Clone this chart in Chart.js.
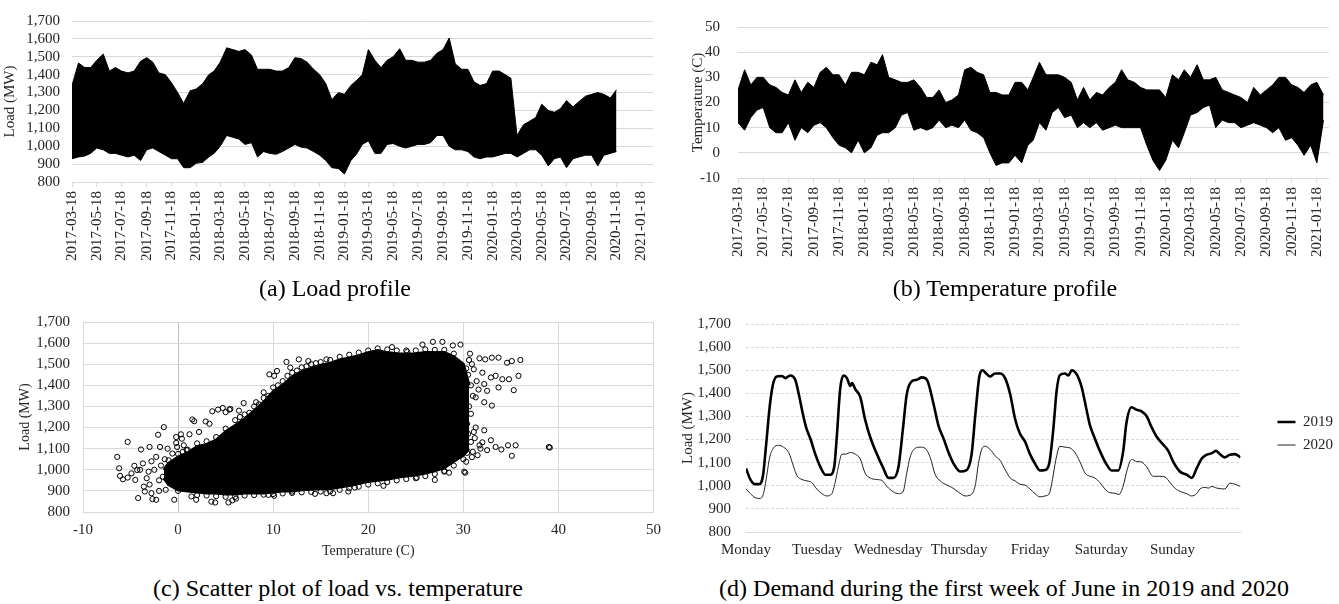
<!DOCTYPE html>
<html>
<head>
<meta charset="utf-8">
<title>Load and temperature</title>
<script src="https://cdn.jsdelivr.net/npm/chart.js@4.4.1/dist/chart.umd.min.js"></script>
<style>
  html, body { margin: 0; padding: 0; background: #fff; }
  body { position: relative; width: 1339px; height: 604px; overflow: hidden; font-family: "Liberation Serif", "Times New Roman", serif; }
  canvas { position: absolute; }
  .cap { position: absolute; font-size: 24px; line-height: 24px; color: #000; white-space: nowrap; transform: translateX(-50%); }
</style>
</head>
<body>
<canvas id="load" width="665" height="265" style="left:0;top:0"></canvas>
<canvas id="temp" width="669" height="265" style="left:670px;top:0"></canvas>
<canvas id="scatter" width="670" height="262" style="left:0;top:300px"></canvas>
<canvas id="week" width="669" height="262" style="left:670px;top:300px"></canvas>

<div class="cap" style="left:335px;top:276px">(a) Load profile</div>
<div class="cap" style="left:1005px;top:276px">(b) Temperature profile</div>
<div class="cap" style="left:338px;top:576px">(c) Scatter plot of load vs. temperature</div>
<div class="cap" style="left:1004px;top:576px">(d) Demand during the first week of June in 2019 and 2020</div>

<script>
// tick labels of the two date axes (every two months)
const dateTicks = ['2017-03-18','2017-05-18','2017-07-18','2017-09-18','2017-11-18','2018-01-18','2018-03-18','2018-05-18',
  '2018-07-18','2018-09-18','2018-11-18','2019-01-18','2019-03-18','2019-05-18','2019-07-18','2019-09-18','2019-11-18',
  '2020-01-18','2020-03-18','2020-05-18','2020-07-18','2020-09-18','2020-11-18','2021-01-18'];

const sampleDates = [
  '2017-03-18','2017-04-03','2017-04-18','2017-05-03','2017-05-18','2017-06-03','2017-06-18','2017-07-03','2017-07-18','2017-08-03',
  '2017-08-18','2017-09-03','2017-09-18','2017-10-03','2017-10-18','2017-11-03','2017-11-18','2017-12-03','2017-12-18',
  '2018-01-03','2018-01-18','2018-02-03','2018-02-18','2018-03-03','2018-03-18','2018-04-03','2018-04-18','2018-05-03','2018-05-18',
  '2018-06-03','2018-06-18','2018-07-03','2018-07-18','2018-08-03','2018-08-18','2018-09-03','2018-09-18','2018-10-03','2018-10-18',
  '2018-11-03','2018-11-18','2018-12-03','2018-12-18',
  '2019-01-03','2019-01-18','2019-02-03','2019-02-18','2019-03-03','2019-03-18','2019-04-03','2019-04-18','2019-05-03','2019-05-18',
  '2019-06-03','2019-06-18','2019-07-03','2019-07-18','2019-08-03','2019-08-18','2019-09-03','2019-09-18','2019-10-03','2019-10-18',
  '2019-11-03','2019-11-18','2019-12-03','2019-12-18',
  '2020-01-03','2020-01-18','2020-02-03','2020-02-18','2020-03-03','2020-03-18','2020-04-03','2020-04-18','2020-05-03','2020-05-18',
  '2020-06-03','2020-06-18','2020-07-03','2020-07-18','2020-08-03','2020-08-18','2020-09-03','2020-09-18','2020-10-03','2020-10-18',
  '2020-11-03','2020-11-18','2020-12-03','2020-12-18',
  '2021-01-03','2021-01-18','2021-02-03'];

// (a) load profile, upper / lower edge of the hourly band (MW)
const loadHigh = [1340,1465,1440,1440,1480,1515,1420,1440,1420,1410,1420,1475,1495,1470,1410,1400,1355,1300,1240,
  1310,1320,1350,1400,1420,1470,1550,1540,1530,1540,1510,1430,1430,1430,1420,1420,1440,1495,1490,1470,1430,1400,1350,1260,
  1300,1290,1340,1370,1400,1540,1480,1440,1480,1500,1545,1480,1480,1470,1470,1480,1520,1540,1605,1460,1430,1430,1360,1340,
  1350,1420,1420,1400,1380,1060,1120,1140,1160,1235,1200,1190,1210,1255,1220,1250,1280,1290,1300,1290,1270,1315];
const loadLow = [930,940,945,960,990,980,960,960,950,940,950,920,980,990,970,950,930,930,880,
  880,905,910,940,960,1000,1060,1050,1040,1010,1020,940,970,960,955,970,990,1010,995,990,970,950,920,880,
  875,845,920,960,1010,1030,960,960,1010,1015,1000,990,1000,1010,1010,1020,1060,1060,1000,980,980,970,940,930,
  940,940,950,960,960,940,960,980,980,950,890,930,940,880,930,940,950,950,890,950,960,970];

// (b) temperature profile, upper / lower edge (C)
const tempHigh = [25,33,27,30,30,27,26,24,23,29,24,28,26,32,34,31,31,27,32,
  32,31,36,35,39,30,29,28,28,29,26,22,22,25,20,21,23,33,34,32,31,24,24,23,
  23,28,28,25,30,36,31,31,31,30,28,21,26,21,24,23,26,28,33,29,28,26,25,25,
  25,22,31,29,33,30,35,29,29,30,25,24,23,22,20,26,23,25,27,30,30,27,26,24,
  27,28,23];
const tempLow = [12,9,14,17,18,10,8,8,12,5,10,8,11,12,10,6,3,2,0,
  5,0,2,7,8,8,10,15,16,9,10,9,10,13,10,11,10,13,9,8,6,0,-5,-4,
  -4,-1,-4,3,5,12,9,16,18,14,15,10,12,10,12,9,10,11,10,10,10,10,3,-3,
  -7,-3,5,2,8,15,16,18,19,10,13,12,12,10,11,12,11,10,8,10,5,6,3,-1,
  3,-4,13];

// (c) solid core of the scatter cloud: temperature with top / bottom load
const cloudTemp = [-1.5,-1,0,1,2,3,4,5,6,7,8,9,10,11,12,13,14,15,16,17,18,19,20,21,22,23,24,25,26,27,28,29,30,30.6];
const cloudTop = [1000,1030,1060,1080,1110,1120,1140,1180,1210,1240,1280,1320,1370,1400,1440,1465,1480,1495,1505,1520,
  1530,1540,1555,1565,1555,1550,1548,1550,1555,1555,1555,1535,1500,1400];
const cloudBottom = [960,930,905,900,895,890,890,885,885,890,890,890,895,900,900,905,908,910,910,918,
  925,935,945,950,955,965,970,975,985,995,1010,1040,1070,1100];

// (c) separate hourly observations around and on the edge of the cloud
const scTemp = [-6.4,-5.3,-6.2,-6.1,-5.8,-5.3,-4.9,-4.6,-4.3,-4.5,-4.2,-3.9,-3.7,-3.6,-3.5,-3.1,-3.0,-2.8,-2.7,-2.3,
  -2.3,-2.1,-1.9,-1.5,-1.6,-1.3,-1.1,-0.6,-0.4,-0.2,-0.1,-0.2,0.3,0.4,0.6,0.9,1.2,1.5,1.7,1.4,
  1.9,2.2,2.9,3.3,3.5,3.9,3.6,4.2,4.7,5.0,5.4,5.5,5.3,5.7,6.1,6.4,6.9,8.2,9.0,9.6,
  10.1,10.4,11.4,11.8,12.7,13.7,15.6,9.5,10.1,12.0,14.4,15.6,21.6,17.9,18.6,16.3,25.7,26.8,27.8,28.9,
  29.7,24.1,22.5,27.0,28.0,28.5,30.2,25.1,30.7,31.7,32.3,33.0,33.7,34.6,35.1,36.0,31.1,32.0,32.9,33.4,
  34.1,34.8,35.8,32.2,33.7,35.3,32.5,31.3,33.0,32.2,30.8,30.4,31.1,32.2,30.8,31.7,32.5,32.9,33.4,34.0,
  34.7,35.1,35.5,31.0,31.5,30.3,30.1,39.0,39.1,
  -2.5,-2.0,-1.8,-1.0,-0.8,-2.8,-3.3,-4.0,-1.4,-0.5,0.0,-2.0,-3.0,
  30.5,30.8,31.0,30.6,31.4,30.9,31.6,30.5,31.2,31.8,30.9,32.0,31.3,
  6,6.5,7,7.5,8,8.5,9,9.5,10,10.5,11,11.5,12,12.5,13,13.5,14,14.5,15,16,17,18,19,20,21,22,23,24,25,26,27,28,29,
  2,3,4,5,6,7,8,9,10,11,12,13,14,15,16,17,18,19,20,21,22,23,24,25,26,27,28,29,30,
  -1,0,0.5,1,2,3,4,5,30.3,30.6,30.2,30.4];
const scLoad = [1061,1132,1007,971,955,963,983,1019,999,952,866,1096,1030,920,897,991,1108,889,861,858,
  1061,1166,1108,1202,967,905,1100,1077,858,1155,1108,1127,1168,1147,1116,1093,1168,1238,1230,874,
  858,1179,1229,1218,849,845,1277,1285,1293,1273,1285,1288,845,855,863,1280,1316,1320,1367,1452,
  1445,1468,1511,1484,1523,1515,1523,881,877,897,886,889,924,897,916,889,1593,1606,1606,1589,
  1593,1559,1581,952,991,986,986,963,1550,1528,1523,1531,1531,1507,1515,1520,1476,1460,1437,1445,
  1429,1429,1445,1406,1390,1377,1374,1343,1304,1320,1265,1218,1179,1187,1132,1116,1093,1140,1108,1096,
  1116,1066,1116,1085,1069,1038,991,1108,1105,
  1000,950,1020,990,940,1040,960,1000,1050,1030,900,900,930,
  1450,1400,1350,1300,1420,1500,1380,1170,1150,1100,1060,1130,1200,
  1235,1250,1262,1270,1300,1310,1340,1350,1390,1400,1420,1445,1460,1470,1485,1490,1500,1505,1510,1520,1535,1545,1555,1565,1575,1570,1565,1565,1565,1570,1568,1568,1550,
  880,878,875,872,872,878,880,882,885,888,890,893,895,897,898,905,912,920,930,936,942,950,956,960,970,980,995,1020,1050,
  1045,1075,1085,1095,1125,1135,1155,1195,1480,1520,1110,1080];

// (d) first week of June, hour of week and load (MW)
const dayNames = ['Monday','Tuesday','Wednesday','Thursday','Friday','Saturday','Sunday'];
const hours2019 = [0,1.5,3.1,4.3,5.7,6.8,8.0,9.1,10.4,12.1,13.3,14.9,16.6,17.8,18.9,20.3,21.9,23.4,25.1,26.8,
  28.4,29.8,30.7,31.8,32.9,34.1,35.2,35.8,36.9,38.6,40.2,41.9,44.2,46.4,48.1,49.8,51.5,53.0,54.3,56.0,
  57.7,59.4,61.1,63.3,65.0,66.7,68.4,70.1,72.3,74.5,76.2,77.4,78.8,79.9,81.1,82.4,84.1,85.8,87.5,89.2,
  90.9,92.5,94.2,95.9,97.6,99.3,101.0,102.4,103.8,104.9,106.0,107.7,108.9,110.0,111.7,113.4,115.0,116.2,117.8,119.5,
  121.6,123.5,125.7,127.4,128.5,130.2,131.9,133.6,135.3,137.0,138.7,140.9,142.6,144.3,146.5,148.8,150.5,152.2,153.8,155.5,
  157.2,158.7,160.3,161.7,163.4,165.1,167.0];
const load2019 = [1075,1027,1007,1007,1041,1178,1342,1438,1473,1475,1466,1477,1460,1398,1329,1253,1198,1137,1082,1048,
  1048,1082,1219,1418,1477,1466,1432,1445,1418,1384,1288,1212,1137,1075,1034,1034,1082,1247,1397,1452,
  1459,1469,1459,1356,1260,1205,1144,1096,1062,1068,1137,1301,1473,1500,1486,1473,1486,1486,1466,1397,
  1288,1226,1192,1137,1096,1066,1068,1096,1247,1411,1479,1486,1477,1500,1482,1425,1329,1260,1205,1151,
  1096,1066,1066,1151,1274,1340,1329,1322,1301,1253,1212,1178,1151,1103,1062,1048,1034,1075,1116,1134,
  1140,1151,1134,1123,1134,1137,1123];
const hours2020 = [0,1.5,3.1,4.8,5.9,6.8,8.0,9.3,11.0,12.7,14.4,16.1,17.2,18.9,20.6,22.2,23.9,25.6,27.3,29.0,
  30.1,31.2,32.4,33.7,35.2,36.9,38.6,40.2,41.9,44.2,45.9,47.6,49.8,51.5,53.0,54.3,55.4,57.1,58.8,60.5,
  62.2,63.9,65.6,67.2,69.5,71.7,74.0,75.7,77.4,78.5,79.6,80.7,82.4,84.1,85.8,87.5,89.2,90.9,92.5,94.2,
  95.9,97.6,99.3,101.0,102.4,103.5,104.6,106.0,107.7,109.4,111.1,112.8,114.5,116.2,117.8,119.5,121.2,122.9,124.6,125.9,
  127.4,128.7,130.2,131.9,133.6,135.3,137.5,139.8,141.5,143.2,144.9,147.1,148.8,150.5,152.2,153.3,155.0,156.2,157.3,159.0,
  161.7,163.4,165.1,167.0];
const load2020 = [986,966,948,945,966,1027,1123,1164,1175,1167,1144,1082,1044,1027,1021,1014,986,966,956,966,
  1014,1082,1137,1137,1144,1137,1116,1055,1034,1027,1023,997,973,966,973,1055,1123,1162,1167,1162,
  1123,1048,1021,1007,993,973,956,959,1000,1096,1158,1171,1158,1130,1110,1070,1034,1021,1007,1003,
  986,966,952,956,966,1027,1110,1171,1167,1164,1144,1103,1055,1041,1034,1014,986,970,968,962,
  1000,1068,1114,1105,1103,1082,1041,1041,1038,1014,989,973,966,956,966,986,993,990,997,990,
  986,1011,1007,997];

// ---- helpers ----
const axisStart = '2017-03-18';
const axisEnd = '2021-02-16';
const DAY = 86400000;
const dayOf = s => (Date.parse(s) - Date.parse(axisStart)) / DAY;
const fmt = v => v.toLocaleString('en-US');
const GRID = '#d9d9d9';
const INK = '#262626';

Chart.defaults.font.family = '"Liberation Serif", "Times New Roman", serif';
Chart.defaults.font.size = 15;
Chart.defaults.color = INK;
Chart.defaults.animation = false;
Chart.defaults.responsive = false;
Chart.defaults.plugins.legend.display = false;
Chart.defaults.plugins.tooltip.enabled = false;

function pts(xs, ys, fx) {
  return ys.map((y, i) => ({ x: fx ? fx(xs[i]) : xs[i], y: y }));
}

// filled black band between the upper and lower edge
function band(high, low) {
  const dates = sampleDates.slice(0, high.length);
  return [
    { data: pts(dates, high, dayOf), borderColor: '#000', backgroundColor: '#000', borderWidth: 1, pointRadius: 0, fill: '+1' },
    { data: pts(dates, low, dayOf), borderColor: '#000', borderWidth: 1, pointRadius: 0, fill: false }
  ];
}

function dateAxis(height) {
  return {
    type: 'linear',
    min: 0,
    max: dayOf(axisEnd),
    afterBuildTicks: s => { s.ticks = dateTicks.map(d => ({ value: dayOf(d) })); },
    afterFit: s => { s.height = height; },
    ticks: { autoSkip: false, minRotation: 90, maxRotation: 90, padding: 4, callback: (v, i) => dateTicks[i] },
    grid: { drawOnChartArea: false, drawTicks: true, tickLength: 5, color: GRID },
    border: { color: GRID }
  };
}

function valueAxis(o) {
  return {
    min: o.min,
    max: o.max,
    afterFit: s => { s.width = o.width; },
    ticks: { stepSize: o.step, padding: o.pad, autoSkip: false, callback: fmt },
    grid: { color: GRID, drawTicks: false, borderDash: o.dash || [] },
    border: { display: false, dash: o.dash || [] },
    title: { display: true, text: o.title, font: { size: o.titleSize || 15 }, padding: { top: o.titlePad } }
  };
}

// the legend of (d) sits a little away from the plot
const legendShift = {
  id: 'legendShift',
  afterLayout(chart) {
    const l = chart.legend;
    if (!l) return;
    l.left += 29; l.right += 29;
    l.top -= 4; l.bottom -= 4;
  }
};

// (a) load profile
new Chart('load', {
  type: 'line',
  data: { datasets: band(loadHigh, loadLow) },
  options: {
    layout: { padding: { top: 15, right: 12 } },
    scales: {
      x: dateAxis(83),
      y: valueAxis({ min: 800, max: 1700, step: 100, width: 72, pad: 12, title: 'Load (MW)', titlePad: 1 })
    }
  }
});

// (b) temperature profile
new Chart('temp', {
  type: 'line',
  data: { datasets: band(tempHigh, tempLow) },
  options: {
    layout: { padding: { top: 15, right: 6 } },
    scales: {
      x: dateAxis(87),
      y: valueAxis({ min: -10, max: 50, step: 10, width: 68, pad: 18, title: 'Temperature (C)', titlePad: 19 })
    }
  }
});

// (c) load vs. temperature
new Chart('scatter', {
  type: 'scatter',
  data: {
    datasets: [
      { data: pts(cloudTemp, cloudTop), showLine: true, fill: '+1', borderColor: '#000', backgroundColor: '#000', borderWidth: 3, pointRadius: 0 },
      { data: pts(cloudTemp, cloudBottom), showLine: true, fill: false, borderColor: '#000', borderWidth: 3, pointRadius: 0 },
      { data: pts(scTemp, scLoad), pointRadius: 2.6, borderWidth: 1, borderColor: '#000', backgroundColor: 'rgba(0,0,0,0)' }
    ]
  },
  options: {
    layout: { padding: { top: 21, right: 12 } },
    scales: {
      x: {
        min: -10,
        max: 50,
        afterFit: s => { s.height = 50; },
        ticks: { stepSize: 10, padding: 9 },
        grid: { color: c => c.tick && c.tick.value === 0 ? '#bfbfbf' : GRID, drawTicks: false },
        border: { color: GRID },
        title: { display: true, text: 'Temperature (C)', font: { size: 14 }, padding: { bottom: 2 } }
      },
      y: valueAxis({ min: 800, max: 1700, step: 100, width: 83, pad: 13, title: 'Load (MW)', titleSize: 14, titlePad: 17 })
    }
  }
});

// (d) first week of June
new Chart('week', {
  type: 'line',
  data: {
    datasets: [
      { label: '2019', data: pts(hours2019, load2019), borderColor: '#000', borderWidth: 2.6, pointRadius: 0, cubicInterpolationMode: 'monotone' },
      { label: '2020', data: pts(hours2020, load2020), borderColor: '#222', borderWidth: 1, pointRadius: 0, cubicInterpolationMode: 'monotone' }
    ]
  },
  plugins: [legendShift],
  options: {
    layout: { padding: { top: 13, right: 25 } },
    plugins: {
      legend: {
        display: true,
        position: 'right',
        labels: { usePointStyle: true, pointStyle: 'line', pointStyleWidth: 18, padding: 8, color: INK, font: { size: 15 } }
      }
    },
    scales: {
      x: {
        type: 'linear',
        min: 0,
        max: 167,
        afterBuildTicks: s => { s.ticks = dayNames.map((d, i) => ({ value: i * 24 })); },
        afterFit: s => { s.height = 30; },
        ticks: { autoSkip: false, maxRotation: 0, padding: 9, callback: (v, i) => dayNames[i] },
        grid: { display: false, drawTicks: false },
        border: { color: GRID }
      },
      y: valueAxis({ min: 800, max: 1700, step: 100, width: 76, pad: 15, title: 'Load (MW)', titlePad: 9, dash: [3, 2] })
    }
  }
});
</script>
</body>
</html>
